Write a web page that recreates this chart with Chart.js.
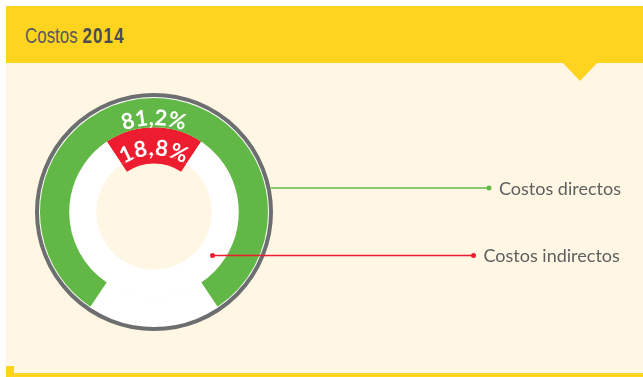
<!DOCTYPE html>
<html>
<head>
<meta charset="utf-8">
<script src="https://cdn.jsdelivr.net/npm/chart.js@4"></script>
<style>
  body { margin: 0; background: #fff; }
  #panel { position: relative; width: 643px; height: 377px; overflow: hidden; }
  .header { position: absolute; left: 6px; top: 6px; width: 637px; height: 57px; background: #ffd41f; }
  .header h1 {
    position: absolute; left: 19px; top: 19px; margin: 0;
    font: 400 22px/22px "Liberation Sans", sans-serif;
    color: #5a5b5d;
    transform: scaleX(0.77); transform-origin: 0 0;
    white-space: nowrap;
  }
  .header h1 b { font-weight: 700; color: #4b4c4e; letter-spacing: 1.5px; }
  .pointer {
    position: absolute; left: 563px; top: 63px; width: 0; height: 0;
    border-left: 17px solid transparent; border-right: 17px solid transparent;
    border-top: 18px solid #ffd41f;
  }
  .body { position: absolute; left: 6px; top: 63px; width: 637px; height: 310px; background: #fff6e4; }
  .foot { position: absolute; left: 6px; top: 373px; width: 637px; height: 4px; background: #ffd41f; }
  .tick { position: absolute; left: 6px; top: 366px; width: 8px; height: 11px; background: #ffd41f; }
  #chart { position: absolute; left: 0; top: 0; }
</style>
</head>
<body>
<div id="panel">
  <div class="body"></div>
  <div class="header"><h1>Costos <b>2014</b></h1></div>
  <div class="pointer"></div>
  <div class="foot"></div>
  <div class="tick"></div>
  <canvas id="chart" width="643" height="377"></canvas>
</div>
<script>
// cost split for 2014 (percent)
const categories = ['Costos directos', 'Costos indirectos'];
const shares = [81.2, 18.8];
const colors = ['#62b847', '#ed1c2e'];

const fmt = v => v.toFixed(1).replace('.', ',') + '%';

// writes text along a circle, centred on the given angle
function arcText(ctx, text, cx, cy, r, mid, spacing) {
    const widths = [...text].map(ch => ctx.measureText(ch).width);
    const total = widths.reduce((a, b) => a + b, 0) + spacing * (widths.length - 1);
    let pos = 0;
    [...text].forEach((ch, i) => {
        const a = mid + (pos + widths[i] / 2 - total / 2) / r;
        ctx.save();
        ctx.translate(cx + r * Math.cos(a), cy + r * Math.sin(a));
        ctx.rotate(a + Math.PI / 2);
        ctx.fillText(ch, 0, 0);
        ctx.restore();
        pos += widths[i] + spacing;
    });
}

const ringDecor = {
    id: 'ringDecor',
    beforeDatasetsDraw(chart) {
        const arc = chart.getDatasetMeta(0).data[0];
        const ctx = chart.ctx;
        ctx.save();
        ctx.strokeStyle = '#ffffff';
        ctx.lineWidth = 2;
        ctx.beginPath();
        ctx.arc(arc.x, arc.y, arc.outerRadius + 1, 0, Math.PI * 2);
        ctx.stroke();
        ctx.strokeStyle = '#6d6e70';
        ctx.lineWidth = 4;
        ctx.beginPath();
        ctx.arc(arc.x, arc.y, arc.outerRadius + 3, 0, Math.PI * 2);
        ctx.stroke();
        ctx.restore();
    },
    afterDatasetsDraw(chart) {
        const outer = chart.getDatasetMeta(0).data[0];
        const inner = chart.getDatasetMeta(2).data[0];
        const cx = outer.x, cy = outer.y;
        const ctx = chart.ctx;
        const top = -Math.PI / 2;
        ctx.save();

        // value labels on the rings
        ctx.fillStyle = '#ffffff';
        ctx.textAlign = 'center';
        ctx.textBaseline = 'alphabetic';
        ctx.font = 'bold 22px Lato, sans-serif';
        arcText(ctx, fmt(shares[0]), cx, cy, outer.innerRadius + 2, top, 0);
        arcText(ctx, fmt(shares[1]), cx, cy, inner.outerRadius - 1, top, 0.5);

        // leader lines
        const rim = outer.outerRadius + 5;
        const rows = [
            { y: 188, x0: cx + Math.sqrt(rim * rim - (188 - cy) ** 2), x1: 489, dot0: false },
            { y: 255.5, x0: 212.5, x1: 473.5, dot0: true }
        ];
        ctx.lineWidth = 1.5;
        ctx.font = '18px Lato, sans-serif';
        ctx.textAlign = 'left';
        rows.forEach((row, i) => {
            ctx.strokeStyle = colors[i];
            ctx.fillStyle = colors[i];
            ctx.beginPath();
            ctx.moveTo(row.x0, row.y);
            ctx.lineTo(row.x1, row.y);
            ctx.stroke();
            ctx.beginPath();
            ctx.arc(row.x1, row.y, 2.5, 0, Math.PI * 2);
            if (row.dot0) ctx.arc(row.x0, row.y, 2.5, 0, Math.PI * 2);
            ctx.fill();
            ctx.fillStyle = '#5e5f61';
            ctx.fillText(categories[i], row.x1 + 10, row.y + 6.5);
        });
        ctx.restore();
    }
};

const swap = [shares[1], shares[0]];

new Chart(document.getElementById('chart'), {
    type: 'doughnut',
    data: {
        labels: categories,
        datasets: [
            {
                data: shares,
                backgroundColor: [colors[0], '#ffffff'],
                rotation: -shares[0] * 1.8,
                weight: 29
            },
            {
                data: swap,
                backgroundColor: [colors[1], '#ffffff'],
                rotation: -shares[1] * 1.8,
                weight: 27
            },
            {
                data: swap,
                backgroundColor: [colors[1], 'rgba(0,0,0,0)'],
                rotation: -shares[1] * 1.8,
                weight: 9
            }
        ]
    },
    options: {
        responsive: false,
        animation: false,
        events: [],
        radius: 114,
        cutout: 49,
        borderWidth: 0,
        layout: { padding: { left: 39, top: 97, right: 374, bottom: 50 } },
        plugins: {
            legend: { display: false },
            tooltip: { enabled: false }
        }
    },
    plugins: [ringDecor]
});
</script>
</body>
</html>
